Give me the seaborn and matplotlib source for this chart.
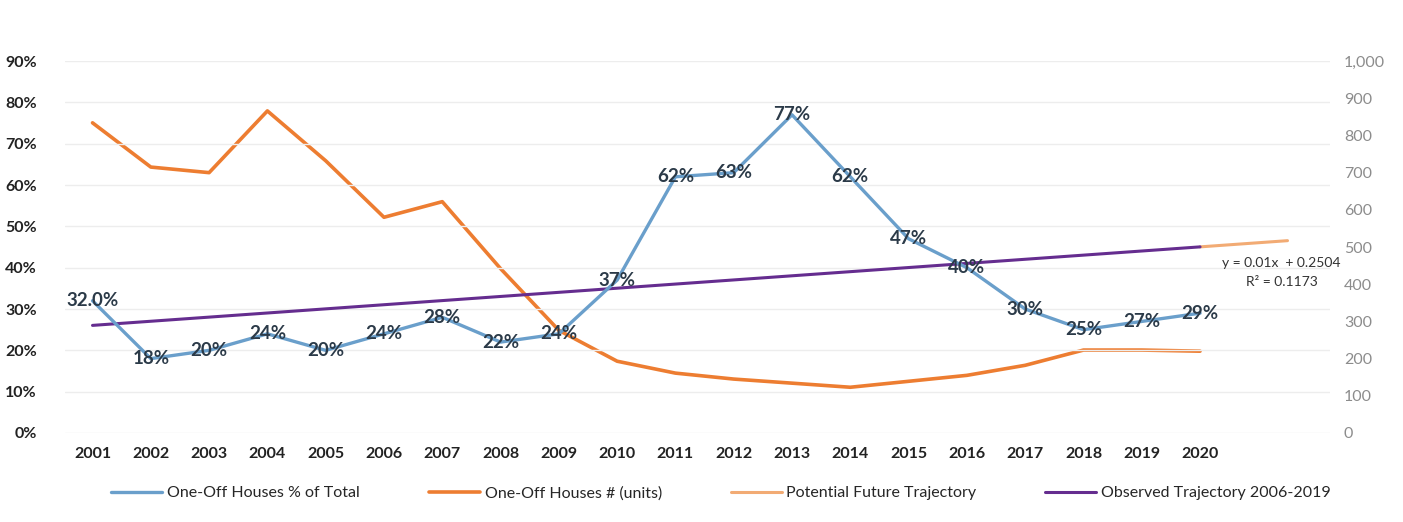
import matplotlib
matplotlib.use("Agg")
import matplotlib.pyplot as plt
from matplotlib.lines import Line2D
from matplotlib.ticker import FuncFormatter, MultipleLocator
import pandas as pd
import seaborn as sns

# ====== Data ======
years = list(range(2001, 2021))
pct_total = [0.32, 0.18, 0.20, 0.24, 0.20, 0.24, 0.28, 0.22, 0.24, 0.37,
             0.62, 0.63, 0.77, 0.62, 0.47, 0.40, 0.30, 0.25, 0.27, 0.29]
pct_labels = ["32.0%", "18%", "20%", "24%", "20%", "24%", "28%", "22%", "24%", "37%",
              "62%", "63%", "77%", "62%", "47%", "40%", "30%", "25%", "27%", "29%"]
units = [834, 715, 700, 866, 732, 580, 622, 442, 276, 193,
         161, 145, 134, 123, 139, 155, 182, 223, 223, 220]

# observed trajectory (linear trend y = 0.01x + 0.2504) and its forward extension
trend_years = [2001, 2020]
trend_vals = [0.2604, 0.4504]
future_years = [2020, 2021.5]
future_vals = [0.4504, 0.4654]

df = pd.DataFrame({"year": years, "pct": pct_total, "units": units})
trend_df = pd.DataFrame({"year": trend_years, "val": trend_vals})
future_df = pd.DataFrame({"year": future_years, "val": future_vals})

BLUE = "#6A9FCB"
ORANGE = "#ED7D31"
LIGHT_ORANGE = "#F2AB74"
PURPLE = "#652D8F"
LABEL = "#2B3A48"

sns.set_style("white")
plt.rcParams["font.family"] = ["Lato", "DejaVu Sans"]

fig = plt.figure(figsize=(14.03, 5.22), dpi=100)
ax = fig.add_axes([0.046, 0.1705, 0.902, 0.7125])
ax2 = ax.twinx()

# ====== Lines ======
sns.lineplot(data=df, x="year", y="units", ax=ax2, color=ORANGE, linewidth=2.6)
sns.lineplot(data=future_df, x="year", y="val", ax=ax, color=LIGHT_ORANGE, linewidth=2.2)
sns.lineplot(data=trend_df, x="year", y="val", ax=ax, color=PURPLE, linewidth=2.2)
sns.lineplot(data=df, x="year", y="pct", ax=ax, color=BLUE, linewidth=2.4)

# put the % axis on top of the units axis
ax.set_zorder(ax2.get_zorder() + 1)
ax.patch.set_visible(False)

for yr, v, lab in zip(years, pct_total, pct_labels):
    ax.text(yr, v, lab, ha="center", va="center", fontsize=13.5,
            fontweight="bold", color=LABEL, zorder=5)

ax.text(2021.4, 0.412, "y = 0.01x  + 0.2504", ha="center", va="center",
        fontsize=10, color="#333333")
ax.text(2021.4, 0.365, "R² = 0.1173", ha="center", va="center",
        fontsize=10, color="#333333")

# ====== Axes formatting ======
ax.set_xlim(2000.52, 2022.23)
ax.set_ylim(0, 0.9)
ax2.set_ylim(0, 1000)
ax.set_xticks(years)
ax.set_xticklabels([str(y) for y in years], fontweight="bold", fontsize=11.5, color="#222222")
ax.yaxis.set_major_locator(MultipleLocator(0.1))
ax.yaxis.set_major_formatter(FuncFormatter(lambda v, p: f"{v*100:.0f}%"))
ax2.yaxis.set_major_locator(MultipleLocator(100))
ax2.yaxis.set_major_formatter(FuncFormatter(lambda v, p: f"{v:,.0f}"))
for t in ax.get_yticklabels():
    t.set_fontweight("bold")
ax.tick_params(axis="y", labelsize=11.5, colors="#222222", length=0, pad=20)
ax.tick_params(axis="x", length=0, pad=10)
ax2.tick_params(axis="y", labelsize=11.5, colors="#8C8C8C", length=0, pad=10)
ax.set_xlabel("")
ax.set_ylabel("")
ax2.set_ylabel("")

ax.grid(axis="y", color="#EDEDED", linewidth=1)
ax.set_axisbelow(True)
for a in (ax, ax2):
    for s in a.spines.values():
        s.set_visible(False)

# ====== Legend ======
handles = [Line2D([], [], color=BLUE, lw=2.4),
           Line2D([], [], color=ORANGE, lw=2.6),
           Line2D([], [], color=LIGHT_ORANGE, lw=2.2),
           Line2D([], [], color=PURPLE, lw=2.2)]
labels = ["One-Off Houses % of Total", "One-Off Houses # (units)",
          "Potential Future Trajectory", "Observed Trajectory 2006-2019"]
fig.legend(handles, labels, loc="center", bbox_to_anchor=(0.514, 0.055), ncol=4,
           frameon=False, fontsize=11.5, handlelength=3.2, handletextpad=0.3,
           columnspacing=4.3)

fig.savefig("out.png", dpi=100)
